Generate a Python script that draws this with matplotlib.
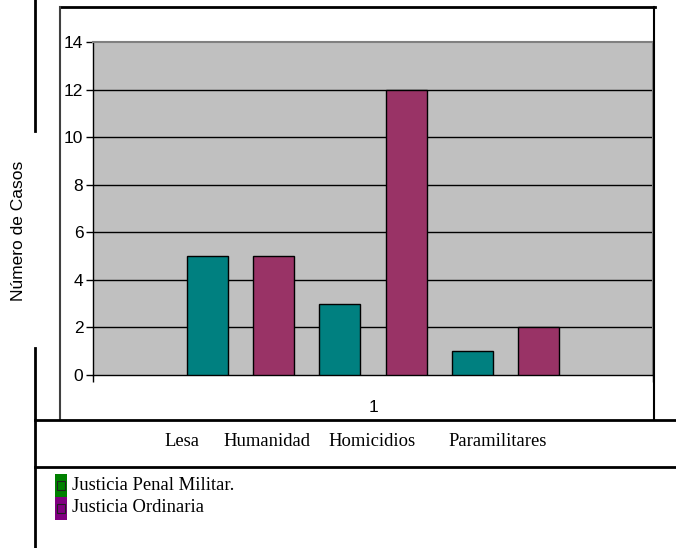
import matplotlib.pyplot as plt
from matplotlib.lines import Line2D
from matplotlib.patches import Rectangle

# values
bar_values = [5, 5, 3, 12, 1, 2]
bar_series = [0, 1, 0, 1, 0, 1]
series_names = ["Justicia Penal Militar.", "Justicia Ordinaria"]
series_colors = ["#008080", "#993366"]
legend_colors = ["#008000", "#800080"]
category_label = "1"
row_words = ["Lesa", "Humanidad", "Homicidios", "Paramilitares"]
y_ticks = [0, 2, 4, 6, 8, 10, 12, 14]

W, H = 676, 548
SANS = ["Liberation Sans", "DejaVu Sans"]
SERIF = ["Liberation Serif", "DejaVu Serif"]


def fx(x):
    return x / W


def fy(y):
    return 1 - y / H


def hline(fig, x0, x1, y, lw=2.0, color="black"):
    fig.add_artist(Line2D([fx(x0), fx(x1)], [fy(y), fy(y)], color=color, lw=lw,
                          transform=fig.transFigure))


def vline(fig, x, y0, y1, lw=2.0, color="black"):
    fig.add_artist(Line2D([fx(x), fx(x)], [fy(y0), fy(y1)], color=color, lw=lw,
                          transform=fig.transFigure))


fig = plt.figure(figsize=(W / 100, H / 100), dpi=100)
fig.patch.set_facecolor("white")

# plot area
ax = fig.add_axes([fx(93), fy(375), (653 - 93) / W, (375 - 42) / H])
ax.set_facecolor("#C0C0C0")
ax.set_xlim(0, 1)
ax.set_ylim(0, 14)

step = 66.3 / 560
width = 41 / 560
n = len(bar_values)
for i, (v, s) in enumerate(zip(bar_values, bar_series)):
    x = 0.5 + (i - (n - 1) / 2) * step
    ax.bar(x, v, width=width, color=series_colors[s], edgecolor="black",
           linewidth=1.0, zorder=3)

for t in y_ticks[1:-1]:
    ax.axhline(t, color="black", lw=1.0, zorder=1)

ax.set_yticks(y_ticks)
ax.set_yticklabels([str(t) for t in y_ticks], fontfamily=SANS, fontsize=12.5)
ax.set_xticks([0, 1])
ax.set_xticklabels(["", ""])
ax.tick_params(axis="y", direction="out", length=5, width=1, pad=2)
ax.tick_params(axis="x", direction="out", length=5, width=1)
for side in ["left", "bottom"]:
    ax.spines[side].set_color("black")
    ax.spines[side].set_linewidth(1.0)
for side in ["top", "right"]:
    ax.spines[side].set_color("#808080")
    ax.spines[side].set_linewidth(1.5)

fig.text(fx(373), fy(407), category_label, fontfamily=SANS, fontsize=12.5,
         ha="center", va="center")
fig.text(fx(19), fy(231), "Número de Casos", fontfamily=SANS, fontsize=12.5,
         rotation=90, ha="center", va="center")

# chart frame
hline(fig, 60, 655, 7, lw=2.0)
vline(fig, 60, 7, 420, lw=1.5, color="#404040")
vline(fig, 654, 7, 420, lw=1.5, color="black")

# table-like rules
vline(fig, 35, 0, 131, lw=2.0)
vline(fig, 35, 348, 548, lw=2.0)
hline(fig, 35, 676, 420, lw=2.0)
hline(fig, 35, 676, 467, lw=2.0)

word_x = [164, 223, 328, 448]
for wx, word in zip(word_x, row_words):
    fig.text(fx(wx), fy(442), word, fontfamily=SERIF, fontsize=13.4,
             ha="left", va="center")

# legend
for k, name in enumerate(series_names):
    top = 474 + 23 * k
    fig.add_artist(Rectangle((fx(55), fy(top + 23)), 12 / W, 23 / H,
                             facecolor=legend_colors[k], edgecolor="none",
                             transform=fig.transFigure))
    fig.add_artist(Rectangle((fx(57), fy(top + 16)), 8 / W, 9 / H,
                             facecolor="none", edgecolor="#202020", lw=0.8,
                             transform=fig.transFigure))
    fig.text(fx(72), fy(top + 11), name, fontfamily=SERIF, fontsize=13.4,
             ha="left", va="center")

fig.savefig("out.png", dpi=100)
